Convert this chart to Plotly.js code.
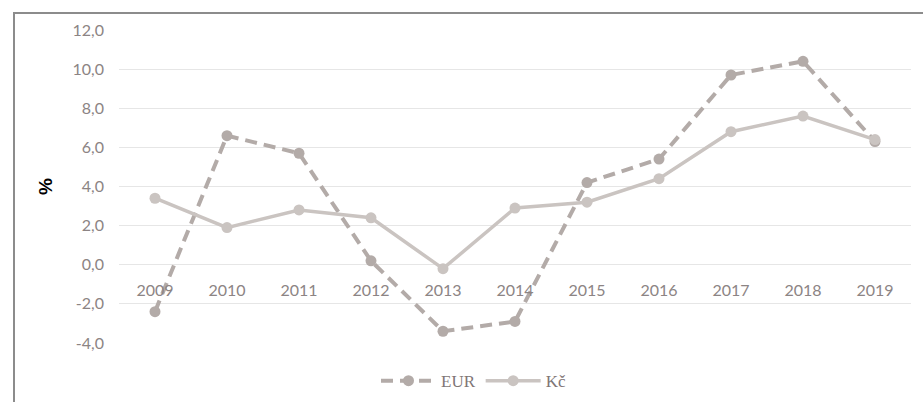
<!DOCTYPE html>
<html>
<head>
<meta charset="utf-8">
<script src="https://cdn.plot.ly/plotly-3.0.1.min.js"></script>
<style>
html, body { margin: 0; padding: 0; background: #fff; }
#chart { width: 923px; height: 402px; }
#frame { position: absolute; left: 13px; top: 12px; width: 930px; height: 400px;
  border-top: 2px solid #8c8c8c; border-left: 2px solid #8c8c8c; pointer-events: none; }
</style>
</head>
<body>
<div id="chart"></div>
<div id="frame"></div>
<script>
const years = ['2009','2010','2011','2012','2013','2014','2015','2016','2017','2018','2019'];
const eur = [-2.4, 6.6, 5.7, 0.2, -3.4, -2.9, 4.2, 5.4, 9.7, 10.4, 6.3];
const czk = [3.4, 1.9, 2.8, 2.4, -0.2, 2.9, 3.2, 4.4, 6.8, 7.6, 6.4];
const yTickVals = [-4, -2, 0, 2, 4, 6, 8, 10, 12];
const yTickText = ['-4,0', '-2,0', '0,0', '2,0', '4,0', '6,0', '8,0', '10,0', '12,0'];

const traces = [
  { x: years, y: eur, name: 'EUR', type: 'scatter', mode: 'lines+markers',
    line: { color: '#b3aba8', width: 4, dash: '12px,7px' },
    marker: { color: '#b3aba8', size: 11 } },
  { x: years, y: czk, name: 'Kč', type: 'scatter', mode: 'lines+markers',
    line: { color: '#cac4c1', width: 3.5 },
    marker: { color: '#cac4c1', size: 11 } }
];

const layout = {
  width: 923, height: 402,
  margin: { l: 119, r: 12, t: 30, b: 59 },
  paper_bgcolor: '#ffffff', plot_bgcolor: '#ffffff',
  showlegend: true,
  legend: { orientation: 'h', xref: 'container', yref: 'container',
    x: 0.513, xanchor: 'center', y: 0.052, yanchor: 'middle',
    font: { family: 'Liberation Serif, serif', size: 17, color: '#7f7676' },
    itemwidth: 55, traceorder: 'normal' },
  xaxis: { type: 'category', anchor: 'free', position: 0.25, range: [-0.5, 10.5],
    showgrid: false, zeroline: false, showline: false, ticks: '', ticklabelstandoff: 14,
    tickfont: { family: 'Lato, sans-serif', size: 16, color: '#8c8484' },
    fixedrange: true },
  yaxis: { range: [-4, 12], tickvals: yTickVals, ticktext: yTickText,
    showgrid: true, gridcolor: '#e6e6e6', gridwidth: 1,
    zeroline: false, showline: false, ticks: '', ticklabelstandoff: 14,
    tickfont: { family: 'Lato, sans-serif', size: 16, color: '#8c8484' },
    title: { text: '<b>%</b>', standoff: 14, font: { family: 'Liberation Sans, sans-serif', size: 19, color: '#000000' } },
    automargin: false, fixedrange: true }
};

Plotly.newPlot('chart', traces, layout, { displayModeBar: false, staticPlot: true });
</script>
</body>
</html>
